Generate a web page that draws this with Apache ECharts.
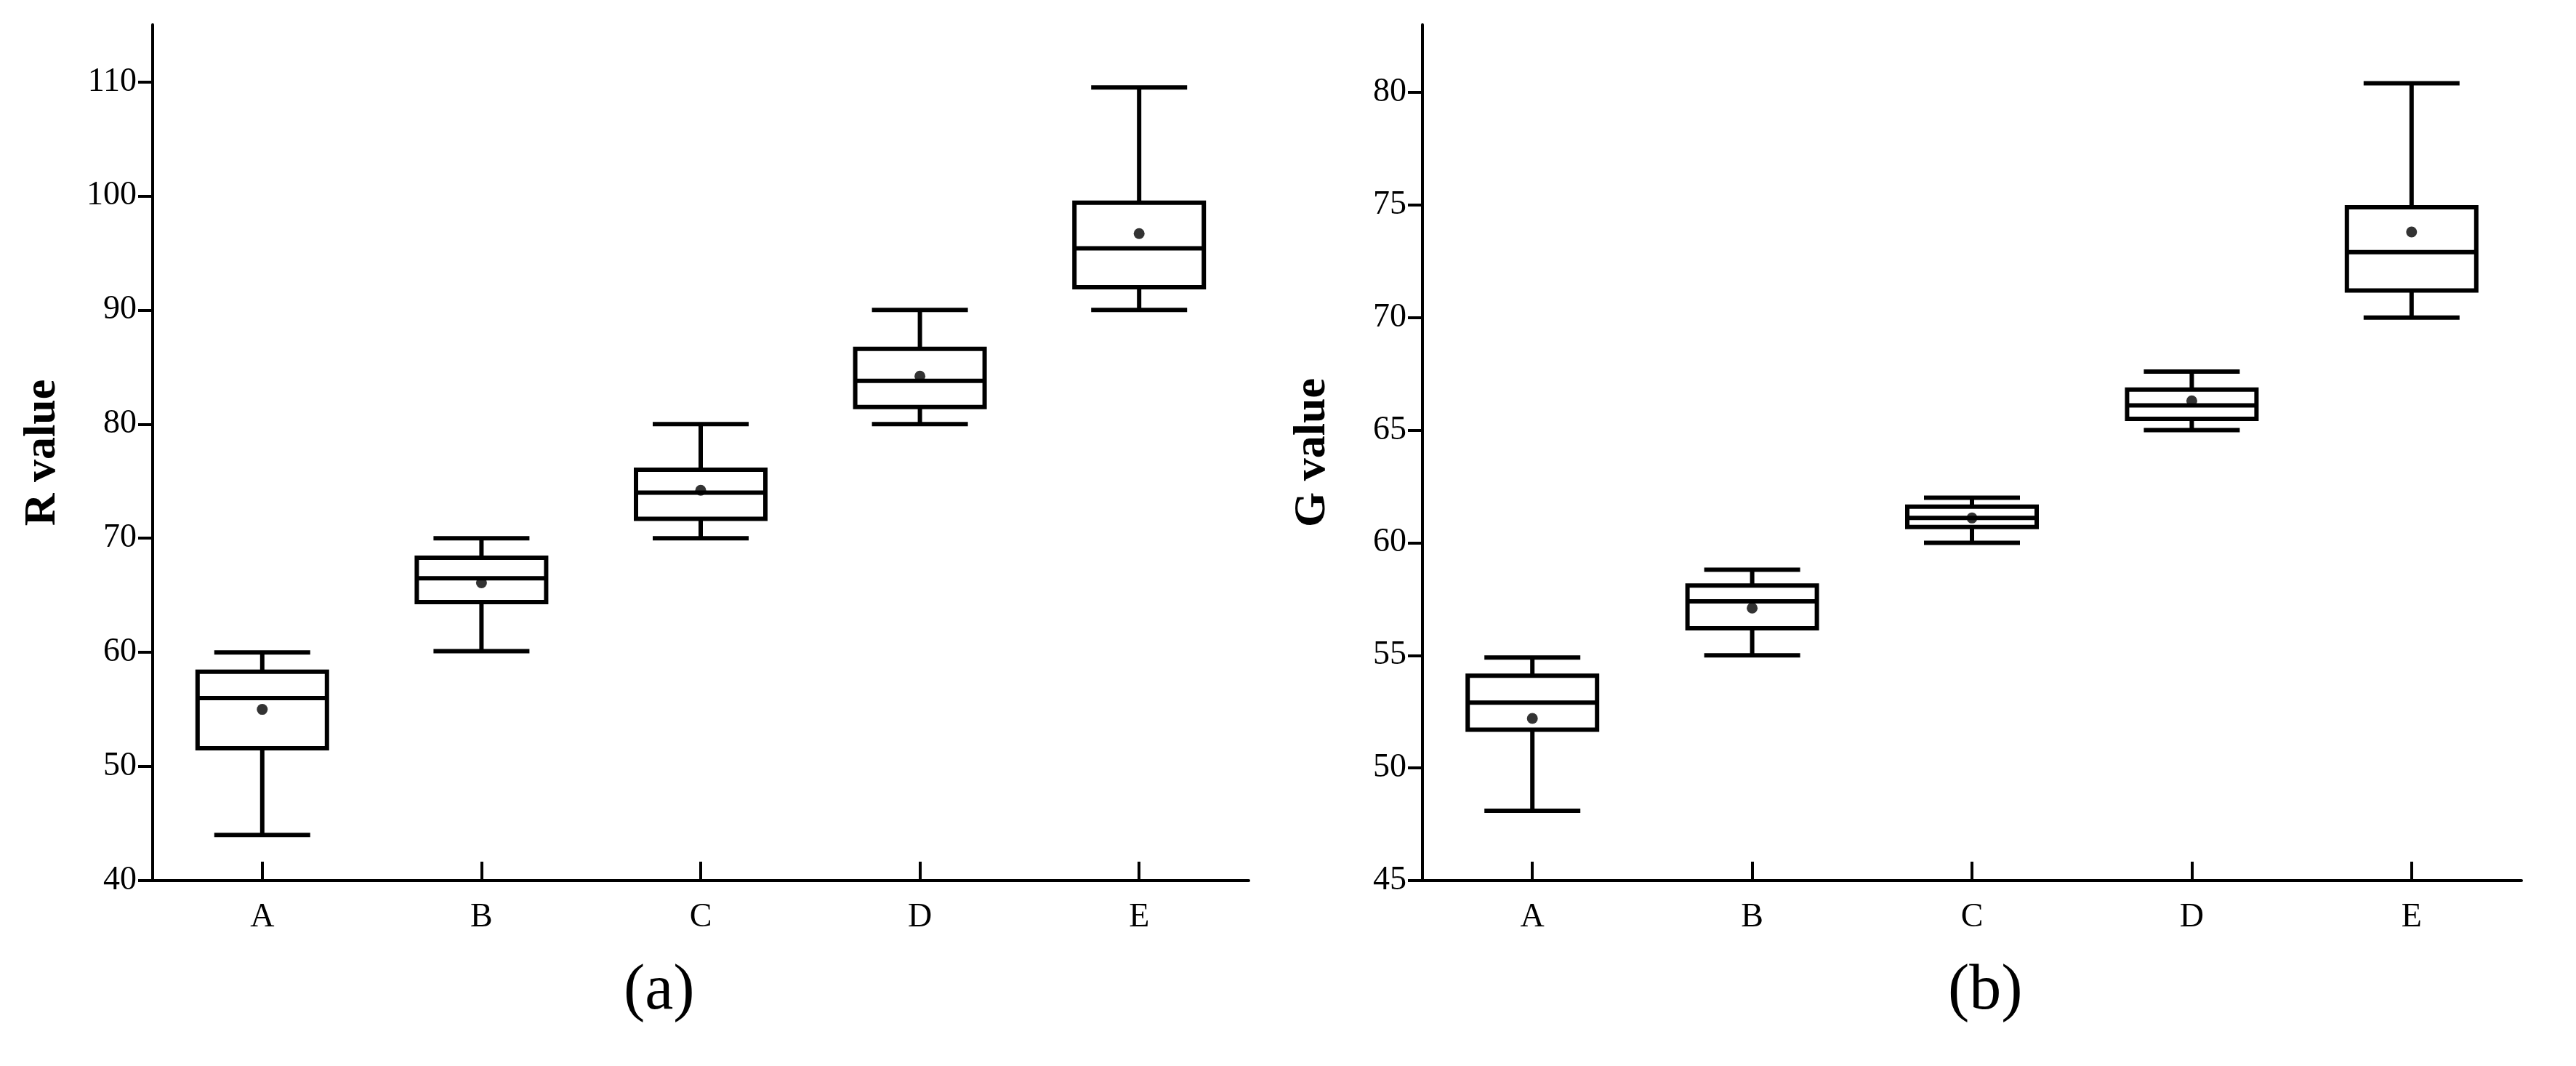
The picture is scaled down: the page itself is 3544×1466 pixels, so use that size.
<!DOCTYPE html>
<html><head><meta charset="utf-8">
<script src="https://cdn.jsdelivr.net/npm/echarts@6/dist/echarts.min.js"></script>
<style>html,body{margin:0;background:#fff}#c{width:3544px;height:1466px}</style>
</head><body><div id="c"></div>
<script>
const categories = ['A','B','C','D','E'];
// [min, Q1, median, Q3, max]
const rBox = [[44,51.6,56,58.3,60],[60.1,64.4,66.5,68.3,70],[70,71.7,74,76,80],[80,81.5,83.8,86.6,90],[90,92,95.4,99.4,109.5]];
const rMean = [55,66.1,74.2,84.2,96.7];
const gBox = [[48.1,51.7,52.9,54.1,54.9],[55,56.2,57.4,58.1,58.8],[60,60.7,61.1,61.6,62],[65,65.5,66.1,66.8,67.6],[70,71.2,72.9,74.9,80.4]];
const gMean = [52.2,57.1,61.1,66.3,73.8];
const rTicks = {min:40,max:115,interval:10};
const gTicks = {min:45,max:83,interval:5};

const font = 'Liberation Serif';
const ch = echarts.init(document.getElementById('c'));
function render(params, api){
  const x = api.value(0);
  const v = [api.value(1),api.value(2),api.value(3),api.value(4),api.value(5)];
  const p = v.map(val => api.coord([x,val]));
  const cx = p[0][0];
  const bw = 178, cw = 132;
  const st = {stroke:'#000', lineWidth:6, fill:null};
  return {type:'group', children:[
    {type:'line', shape:{x1:cx,y1:p[0][1],x2:cx,y2:p[1][1]}, style:st},
    {type:'line', shape:{x1:cx,y1:p[3][1],x2:cx,y2:p[4][1]}, style:st},
    {type:'line', shape:{x1:cx-cw/2,y1:p[0][1],x2:cx+cw/2,y2:p[0][1]}, style:st},
    {type:'line', shape:{x1:cx-cw/2,y1:p[4][1],x2:cx+cw/2,y2:p[4][1]}, style:st},
    {type:'rect', shape:{x:cx-bw/2,y:p[3][1],width:bw,height:p[1][1]-p[3][1]}, style:{stroke:'#000',lineWidth:6,fill:'#fff'}},
    {type:'line', shape:{x1:cx-bw/2,y1:p[2][1],x2:cx+bw/2,y2:p[2][1]}, style:st}
  ]};
}
function xAxis(i){return {type:'category', gridIndex:i, data:categories, boundaryGap:true,
  axisLine:{show:true, lineStyle:{color:'#000',width:4}},
  axisTick:{show:true, inside:true, alignWithLabel:true, length:26, lineStyle:{color:'#000',width:4}},
  axisLabel:{color:'#000', fontFamily:font, fontSize:46, margin:28}};}
function yAxis(i,t,name){return {type:'value', gridIndex:i, min:t.min, max:t.max, interval:t.interval,
  name:name, nameLocation:'middle', nameGap:120, nameTextStyle:{color:'#000',fontFamily:font,fontSize:62,fontWeight:'bold'},
  splitLine:{show:false},
  axisLine:{show:true, lineStyle:{color:'#000',width:4}},
  axisTick:{show:true, length:20, lineStyle:{color:'#000',width:4}},
  axisLabel:{color:'#000', fontFamily:font, fontSize:46, margin:22, showMaxLabel:false}};}
function boxData(b){return b.map((d,i)=>[i].concat(d));}
ch.setOption({
  animation:false,
  grid:[{left:210,top:34,width:1508,height:1177},{left:1957,top:34,width:1512,height:1177}],
  graphic:[
    {type:'text', left:858, top:1320, style:{text:'(a)', font:'88px "Liberation Serif"', fill:'#000'}},
    {type:'text', left:2680, top:1320, style:{text:'(b)', font:'88px "Liberation Serif"', fill:'#000'}}
  ],
  xAxis:[xAxis(0),xAxis(1)],
  yAxis:[yAxis(0,rTicks,'R value'),yAxis(1,gTicks,'G value')],
  series:[
    {type:'custom', xAxisIndex:0, yAxisIndex:0, data:boxData(rBox), renderItem:render, encode:{x:0,y:[1,2,3,4,5]}},
    {type:'scatter', xAxisIndex:0, yAxisIndex:0, data:rMean, symbolSize:15, itemStyle:{color:'#000'}, z:5},
    {type:'custom', xAxisIndex:1, yAxisIndex:1, data:boxData(gBox), renderItem:render, encode:{x:0,y:[1,2,3,4,5]}},
    {type:'scatter', xAxisIndex:1, yAxisIndex:1, data:gMean, symbolSize:15, itemStyle:{color:'#000'}, z:5}
  ]
});
</script></body></html>
